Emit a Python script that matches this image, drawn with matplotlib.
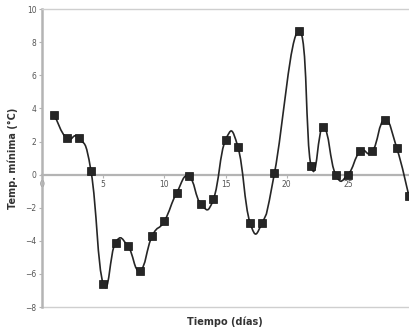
import matplotlib
matplotlib.use("Agg")
import matplotlib.pyplot as plt
import numpy as np
from matplotlib.path import Path
from matplotlib.patches import PathPatch

# daily minimum temperature (day 20 is missing)
days = [1, 2, 3, 4, 5, 6, 7, 8, 9, 10, 11, 12, 13, 14, 15, 16, 17, 18, 19,
        21, 22, 23, 24, 25, 26, 27, 28, 29, 30]
temps = [3.6, 2.2, 2.2, 0.2, -6.6, -4.1, -4.3, -5.8, -3.7, -2.8, -1.1, -0.1,
         -1.8, -1.5, 2.1, 1.7, -2.9, -2.9, 0.1,
         8.7, 0.5, 2.9, 0.0, 0.0, 1.4, 1.4, 3.3, 1.6, -1.3]
x_ticks = [0, 5, 10, 15, 20, 25]
y_ticks = [-8, -6, -4, -2, 0, 2, 4, 6, 8, 10]

LINE = "#262626"
AXIS = "#b4b4b4"
TEXT = "#555555"
TENSION = 0.24  # spreadsheet-style smoothing is looser than plain Catmull-Rom


def smooth_path(xs, ys, k=TENSION):
    """Cubic Bezier path through the points, control points from the neighbours."""
    pts = np.column_stack([xs, ys]).astype(float)
    n = len(pts)
    verts = [pts[0]]
    codes = [Path.MOVETO]
    for i in range(n - 1):
        p_prev = pts[max(i - 1, 0)]
        p0, p1 = pts[i], pts[i + 1]
        p_next = pts[min(i + 2, n - 1)]
        c1 = p0 + (p1 - p_prev) * k
        c2 = p1 - (p_next - p0) * k
        verts += [c1, c2, p1]
        codes += [Path.CURVE4] * 3
    return Path(verts, codes)


fig = plt.figure(figsize=(4.09, 3.27), dpi=100)
ax = fig.add_axes([0.103, 0.061, 0.897, 0.911])

ax.add_patch(PathPatch(smooth_path(days, temps), facecolor="none",
                       edgecolor=LINE, linewidth=1.2, zorder=3))
ax.plot(days, temps, linestyle="none", marker="s", markersize=5.4,
        color=LINE, markeredgecolor="#111111", markeredgewidth=0.5, zorder=4)

ax.set_xlim(0, 30)
ax.set_ylim(-8, 10)

# x axis crosses at zero
ax.spines["bottom"].set_position(("data", 0))
ax.spines["bottom"].set_color(AXIS)
ax.spines["bottom"].set_linewidth(1.6)
ax.spines["left"].set_color(AXIS)
ax.spines["left"].set_linewidth(1.8)
ax.spines["top"].set_color("#cfcfcf")
ax.spines["top"].set_linewidth(1.0)
ax.spines["right"].set_visible(False)
ax.axhline(-8, color="#cfcfcf", linewidth=1.0, clip_on=False, zorder=1)

ax.set_xticks(x_ticks)
ax.set_yticks(y_ticks)
ax.tick_params(axis="both", labelsize=5.5, labelcolor=TEXT, color=AXIS,
               length=2, width=0.8, pad=2)
ax.tick_params(axis="x", direction="out")

ax.set_ylabel("Temp. mínima (°C)", fontsize=7, fontweight="bold",
              color="#333333", labelpad=5)
fig.text(225 / 409, 1 - 322 / 327, "Tiempo (días)", fontsize=7,
         fontweight="bold", color="#333333", ha="center", va="center")

fig.savefig("out.png", dpi=100)
